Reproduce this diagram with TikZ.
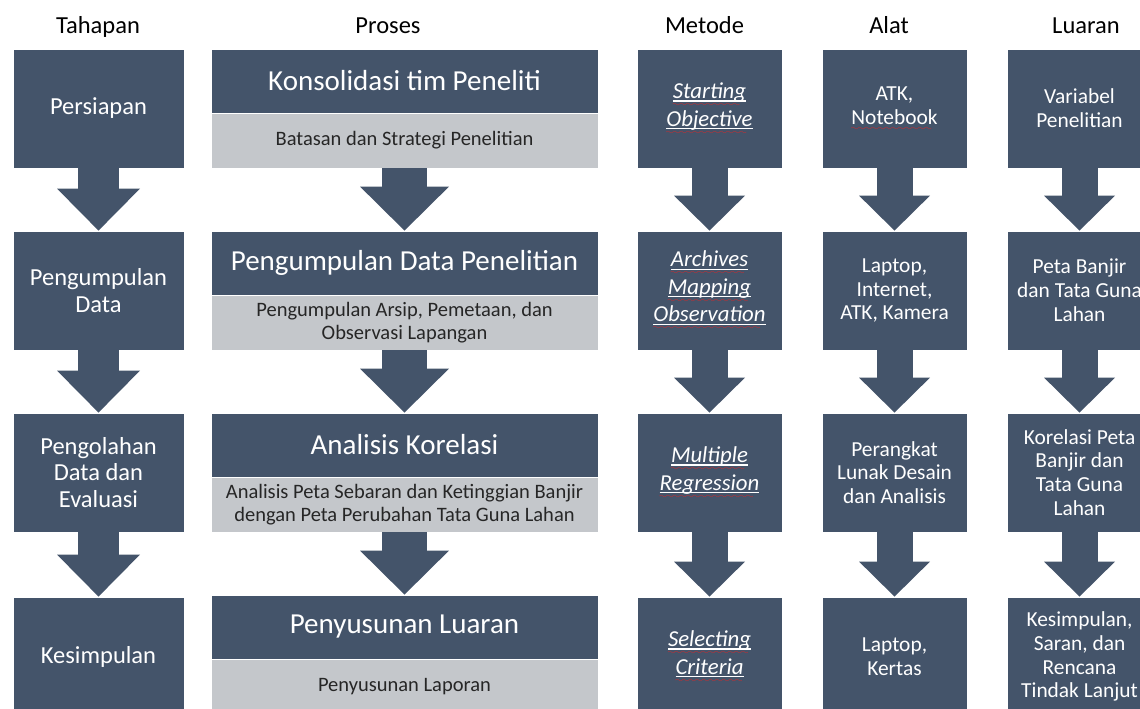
\documentclass[tikz,border=0pt]{standalone}
\usepackage{fontspec}
\setmainfont{Carlito}
\usepackage{xcolor}
\usetikzlibrary{arrows.meta}
\definecolor{slateColor}{RGB}{68, 84, 106}
\definecolor{greyColor}{RGB}{196, 199, 203}
\definecolor{typoColor}{RGB}{226, 38, 38}
% red spell-check squiggle
\font\wavefnt=lasy6 at 8pt
\newsavebox{\typobox}
\newcommand{\typo}[1]{\sbox{\typobox}{#1}\rlap{\textcolor{typoColor}{\lower6pt\hbox to\wd\typobox{\leaders\hbox{\wavefnt\char58}\hfil}}}\usebox{\typobox}}
\newcommand{\typoit}[1]{\sbox{\typobox}{\itshape #1}\rlap{\rule[-3pt]{\wd\typobox}{1.2pt}}\rlap{\textcolor{typoColor}{\lower8pt\hbox to\wd\typobox{\leaders\hbox{\wavefnt\char58}\hfil}}}\usebox{\typobox}}

\begin{document}
\begin{tikzpicture}[x=1pt, y=-1pt,
    heading/.style={anchor=base, font=\fontsize{24.5}{26}\selectfont},
    stage/.style={draw=white, line width=0.8pt, fill=slateColor, text=white, inner sep=0pt, align=center, minimum width=171pt, minimum height=119pt, font=\fontsize{24.5}{26.8}\selectfont},
    proshead/.style={draw=white, line width=0.8pt, fill=slateColor, text=white, inner sep=0pt, minimum width=387pt, minimum height=64pt, font=\fontsize{29}{31}\selectfont},
    prossub/.style={draw=white, line width=0.8pt, fill=greyColor, text=black!85, inner sep=0pt, align=center, minimum width=387pt, minimum height=55pt, font=\fontsize{20.5}{23.5}\selectfont},
    smallbox/.style={draw=white, line width=0.8pt, fill=slateColor, text=white, inner sep=0pt, align=center, minimum width=145pt, minimum height=119pt, font=\fontsize{21.4}{23.8}\selectfont},
    methodbox/.style={smallbox, font=\fontsize{22.8}{27.5}\selectfont},
    blockarrow/.style n args={3}{draw=slateColor, line width=#1, -{Triangle[width=#2, length=#3, line width=0pt]}}]
\clip (0,0) rectangle (1140,709);

% column titles
\node[heading] (tTahapan) at (98,34) {Tahapan};
\node[heading] (tProses) at (388,34) {Proses};
\node[heading] (tMetode) at (704.5,34) {Metode};
\node[heading] (tAlat) at (889,34) {Alat};
\node[heading] (tLuaran) at (1086,34) {Luaran};

% Tahapan
\node[stage] (persiapan) at (98.5,108.5) {Persiapan};
\node[stage] (pengumpulan) at (98.5,290.5) {Pengumpulan\\Data};
\node[stage] (pengolahan) at (98.5,472.5) {Pengolahan\\Data dan\\Evaluasi};
\node[stage] (kesimpulan) at (98.5,656.5) {Kesimpulan};

% Proses
\node[proshead] (konsolidasi) at (404.5,81) {Konsolidasi tim Peneliti};
\node[prossub] (batasan) at (404.5,140.5) {Batasan dan Strategi Penelitian};
\node[proshead] (pengdata) at (404.5,263) {Pengumpulan Data Penelitian};
\node[prossub] (arsip) at (404.5,322.5) {Pengumpulan Arsip, Pemetaan, dan\\Observasi Lapangan};
\node[proshead] (korelasi) at (404.5,445) {Analisis Korelasi};
\node[prossub] (sebaran) at (404.5,504.5) {Analisis Peta Sebaran dan Ketinggian Banjir\\dengan Peta Perubahan Tata Guna Lahan};
\node[proshead] (penyusunan) at (404.5,627) {Penyusunan Luaran};
\node[prossub] (laporan) at (404.5,686.5) {Penyusunan Laporan};

% Metode
\node[methodbox] (starting) at (709.5,108.5) {\typoit{Starting}\\\typoit{Objective}};
\node[methodbox] (archives) at (709.5,290.5) {\typoit{Archives}\\\typoit{Mapping}\\\typoit{Observation}};
\node[methodbox] (multiple) at (709.5,472.5) {\typoit{Multiple}\\\typoit{Regression}};
\node[methodbox] (selecting) at (709.5,656.5) {\typoit{Selecting}\\\typoit{Criteria}};

% Alat
\node[smallbox] (atk) at (894.5,108.5) {ATK,\\\typo{Notebook}};
\node[smallbox] (laptop) at (894.5,290.5) {Laptop,\\Internet,\\ATK, Kamera};
\node[smallbox] (perangkat) at (894.5,472.5) {Perangkat\\Lunak Desain\\dan Analisis};
\node[smallbox] (kertas) at (894.5,656.5) {Laptop,\\Kertas};

% Luaran
\node[smallbox] (variabel) at (1079.5,108.5) {Variabel\\Penelitian};
\node[smallbox] (petabanjir) at (1079.5,290.5) {Peta Banjir\\dan Tata Guna\\Lahan};
\node[smallbox] (korpeta) at (1079.5,472.5) {Korelasi Peta\\Banjir dan\\Tata Guna\\Lahan};
\node[smallbox] (saran) at (1079.5,656.5) {Kesimpulan,\\Saran, dan\\Rencana\\Tindak Lanjut};

% block arrows
\draw[blockarrow={41pt}{83pt}{42pt}] (persiapan.south) -- (pengumpulan.north);
\draw[blockarrow={41pt}{83pt}{42pt}] (pengumpulan.south) -- (pengolahan.north);
\draw[blockarrow={41pt}{83pt}{42pt}] (pengolahan.south) -- (kesimpulan.north);
\draw[blockarrow={45pt}{89pt}{44pt}] (batasan.south) -- (pengdata.north);
\draw[blockarrow={45pt}{89pt}{44pt}] (arsip.south) -- (korelasi.north);
\draw[blockarrow={45pt}{89pt}{44pt}] (sebaran.south) -- (penyusunan.north);
\foreach \a/\b in {starting/archives, archives/multiple, multiple/selecting, atk/laptop, laptop/perangkat, perangkat/kertas, variabel/petabanjir, petabanjir/korpeta, korpeta/saran}
  \draw[blockarrow={36pt}{71pt}{35pt}] (\a.south) -- (\b.north);
\end{tikzpicture}
\end{document}
